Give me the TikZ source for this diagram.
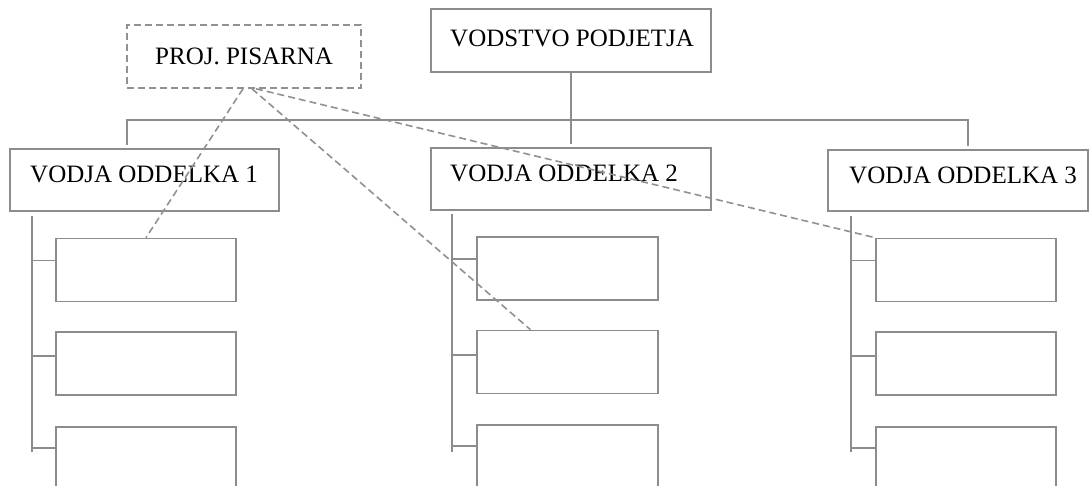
\documentclass[tikz,border=0pt]{standalone}
\usepackage{fontspec}
\setmainfont{Liberation Serif}
\usetikzlibrary{calc}
\definecolor{linegray}{RGB}{140,140,140}
\definecolor{dashgray}{RGB}{145,145,145}
\begin{document}
\begin{tikzpicture}[x=1pt,y=-1pt,
  conn/.style={draw=linegray, line width=1.6pt},
  box/.style={conn, rectangle, inner sep=0pt, fill=white},
  subbox/.style={box, minimum width=180pt, minimum height=63pt},
  projlink/.style={draw=dashgray, line width=1.6pt, dash pattern=on 7pt off 4pt},
  lbl/.style={anchor=base west, inner sep=0pt, font=\fontsize{25}{30}\selectfont}]
\useasboundingbox (0,0) rectangle (1089,486);
\clip (0,0) rectangle (1089,486);
\fill[white] (0,0) rectangle (1089,486);

% top level
\node[box, projlink, minimum width=234pt, minimum height=63pt] (proj) at (244,56.5) {};
\node[box, minimum width=280pt, minimum height=63pt] (vod) at (571,40.5) {};

% department heads
\node[box, minimum width=269pt, minimum height=62pt] (v1) at (144.5,180) {};
\node[box, minimum width=280pt, minimum height=62pt] (v2) at (571,179) {};
\node[box, minimum width=260pt, minimum height=61pt] (v3) at (958,180.5) {};

% units under each head
\node[subbox] (s11) at (146,270) {};
\node[subbox] (s12) at (146,363.5) {};
\node[subbox, minimum height=120pt] (s13) at (146,487) {};
\node[subbox, minimum width=181pt] (s21) at (567.5,268.5) {};
\node[subbox, minimum width=181pt] (s22) at (567.5,362) {};
\node[subbox, minimum width=181pt, minimum height=120pt] (s23) at (567.5,485) {};
\node[subbox] (s31) at (966,270) {};
\node[subbox] (s32) at (966,363.5) {};
\node[subbox, minimum height=120pt] (s33) at (966,487) {};

% labels
\node[lbl] (tproj) at (155,65) {PROJ. PISARNA};
\node[lbl] (tvod) at (450,47) {VODSTVO PODJETJA};
\node[lbl] (tv1) at (30,183) {VODJA ODDELKA 1};
\node[lbl] (tv2) at (450,182) {VODJA ODDELKA 2};
\node[lbl] (tv3) at (849,184) {VODJA ODDELKA 3};

% management bus
\coordinate (d1) at (127,120);
\coordinate (d3) at (968,120);
\draw[conn] (vod.south) -- ([yshift=3pt]v2.north);
\draw[conn] ([yshift=3pt]d1 |- v1.north) -- (d1) -- (d3) -- ([yshift=3pt]d3 |- v3.north);

% spines with ticks to the units
\coordinate (t1) at ($(v1.south west)+(23,4)$);
\coordinate (t2) at ($(v2.south west)+(22,3)$);
\coordinate (t3) at ($(v3.south west)+(24,4)$);
\draw[conn] (t1) -- ([yshift=-26pt]t1 |- s13.north);
\draw[conn] (t2) -- ([yshift=-28pt]t2 |- s23.north);
\draw[conn] (t3) -- ([yshift=-26pt]t3 |- s33.north);
\foreach \c in {1,2,3}{
  \draw[conn] ([yshift=-23pt]s\c1.north west) -- ([yshift=-23pt]t\c |- s\c1.north west);
  \draw[conn] ([yshift=-25pt]s\c2.north west) -- ([yshift=-25pt]t\c |- s\c2.north west);
  \draw[conn] ([yshift=-22pt]s\c3.north west) -- ([yshift=-22pt]t\c |- s\c3.north west);
}

% project office links
\draw[projlink] ([xshift=-1pt]proj.south) -- (s11.north);
\draw[projlink] ([xshift=8pt]proj.south) -- ([xshift=-37pt]s22.north);
\draw[projlink] ([xshift=12pt]proj.south) -- (s31.north west);
\end{tikzpicture}
\end{document}
